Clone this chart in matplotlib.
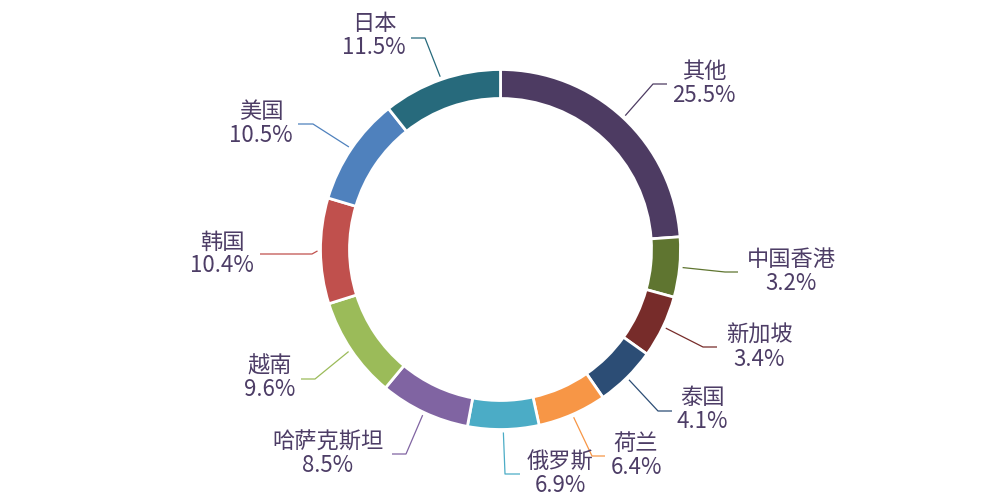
import matplotlib.pyplot as plt
import numpy as np

plt.rcParams['font.family'] = ['Noto Sans CJK SC', 'DejaVu Sans']

# clockwise from 12 o'clock
names = ['其他', '中国香港', '新加坡', '泰国', '荷兰', '俄罗斯',
         '哈萨克斯坦', '越南', '韩国', '美国', '日本']
# percentages printed on the chart
pct_labels = [25.5, 3.2, 3.4, 4.1, 6.4, 6.9, 8.5, 9.6, 10.4, 10.5, 11.5]
# ring share of each slice as drawn in the picture
shares = [23.9, 5.4, 5.6, 5.5, 6.2, 6.4, 8.1, 9.1, 9.5, 9.7, 10.7]
colors = ['#4d3b62', '#5f7530', '#772c2a', '#2c4d75', '#f79646', '#4bacc6',
          '#8064a2', '#9bbb59', '#c0504d', '#4f81bd', '#276a7c']

# layout in pixels (y down): leader elbow, leader end, label block centre
elbows = [(653, 84), (725, 272), (703, 347), (658, 411), (592, 456), (505, 474),
          (406, 454), (315, 379), (312, 254), (313, 124), (425, 38)]
ends = [(667, 84), (738, 272), (717, 347), (672, 411), (605, 456), (520, 474),
        (392, 454), (301, 379), (260, 254), (298, 124), (411, 38)]
label_pos = [(704, 84), (791, 272), (759, 347), (702, 410), (636, 455), (560, 474),
             (328, 454), (270, 378), (222, 254), (261, 124), (374, 36)]

H = 500
cx, cy = 500.5, H - 249.5
R = 180
ring = 29
text_color = '#4d3d66'

fig = plt.figure(figsize=(10, 5), dpi=100)
ax = fig.add_axes([0, 0, 1, 1])

wedges, _ = ax.pie(shares, colors=colors, startangle=90, counterclock=False,
                   center=(cx, cy), radius=R,
                   wedgeprops=dict(width=ring, edgecolor='white', linewidth=2))

# pie resets the limits, so set the pixel frame afterwards
ax.set_xlim(0, 1000)
ax.set_ylim(0, H)
ax.set_aspect('equal')
ax.axis('off')

for i, w in enumerate(wedges):
    mid = np.deg2rad((w.theta1 + w.theta2) / 2)
    sx = cx + (R + 3) * np.cos(mid)
    sy = cy + (R + 3) * np.sin(mid)
    ex, ey = elbows[i]
    fx, fy = ends[i]
    ax.plot([sx, ex, fx], [sy, H - ey, H - fy], color=colors[i], lw=0.9,
            solid_capstyle='butt')
    lx, ly = label_pos[i]
    ax.text(lx, H - ly + 12, names[i], ha='center', va='center',
            fontsize=16, color=text_color)
    ax.text(lx, H - ly - 12, f'{pct_labels[i]}%', ha='center', va='center',
            fontsize=16, color=text_color)

fig.savefig('out.png', dpi=100, facecolor='white')
